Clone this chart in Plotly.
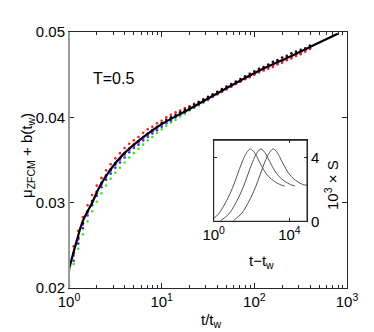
import numpy as np
import plotly.graph_objects as go

# ---------------- data ----------------
# shared sampling of t/t_w for the dotted series
t_ratio = [1.000, 1.122, 1.259, 1.413, 1.585, 1.778, 1.995, 2.239, 2.512, 2.818,
           3.162, 3.548, 3.981, 4.467, 5.012, 5.623, 6.310, 7.079, 7.943, 8.913,
           10.00, 11.22, 12.59, 14.13, 15.85, 17.78, 19.95, 22.39, 25.12, 28.18,
           31.62, 35.48, 39.81, 44.67, 50.12, 56.23, 63.10, 70.79, 79.43, 89.13,
           100.0, 112.2, 125.9, 141.3, 158.5, 177.8, 199.5, 223.9, 251.2, 281.8,
           316.2, 354.8, 398.1]

mu_red = [0.0228, 0.0249, 0.0267, 0.0283, 0.0297, 0.0309, 0.0320, 0.0329, 0.0338, 0.0345,
          0.0352, 0.0358, 0.0364, 0.0369, 0.0373, 0.0377, 0.0382, 0.0386, 0.0389, 0.0393,
          0.0396, 0.0400, 0.0403, 0.0406, 0.0408, 0.0411, 0.0413, 0.0416, 0.0418, 0.0420,
          0.0423, 0.0426, 0.0428, 0.0431, 0.0434, 0.0436, 0.0439, 0.0442, 0.0445, 0.0447,
          0.0450, 0.0453, 0.0455, 0.0457, 0.0459, 0.0462, 0.0464, 0.0467, 0.0469, 0.0472,
          0.0474, 0.0477, 0.0480]

mu_blue = [0.0203, 0.0232, 0.0252, 0.0270, 0.0285, 0.0297, 0.0308, 0.0318, 0.0327, 0.0334,
           0.0341, 0.0347, 0.0353, 0.0359, 0.0364, 0.0368, 0.0373, 0.0377, 0.0381, 0.0385,
           0.0389, 0.0393, 0.0396, 0.0400, 0.0403, 0.0406, 0.0409, 0.0412, 0.0415, 0.0418,
           0.0421, 0.0424, 0.0427, 0.0430, 0.0433, 0.0436, 0.0439, 0.0442, 0.0445, 0.0448,
           0.0451, 0.0453, 0.0456, 0.0459, 0.0461, 0.0464, 0.0466, 0.0469, 0.0471, 0.0474,
           0.0476, 0.0479, 0.0481]

mu_green = [0.0206, 0.0228, 0.0246, 0.0263, 0.0278, 0.0290, 0.0301, 0.0311, 0.0320, 0.0328,
            0.0335, 0.0341, 0.0347, 0.0353, 0.0358, 0.0363, 0.0368, 0.0373, 0.0377, 0.0382,
            0.0386, 0.0390, 0.0394, 0.0397, 0.0401, 0.0404, 0.0408, 0.0411, 0.0414, 0.0417,
            0.0420]

mu_magenta = [0.0212, 0.0238, 0.0257, 0.0274, 0.0288, 0.0300, 0.0311, 0.0321, 0.0330, 0.0337,
              0.0344, 0.0350, 0.0356, 0.0361, 0.0366, 0.0370, 0.0375, 0.0379, 0.0383, 0.0387,
              0.0391, 0.0394, 0.0398, 0.0401, 0.0404, 0.0407, 0.0410, 0.0413, 0.0416, 0.0418,
              0.0421, 0.0424, 0.0427, 0.0430, 0.0433, 0.0436, 0.0439, 0.0442, 0.0445, 0.0448,
              0.0451, 0.0453, 0.0456, 0.0459, 0.0461, 0.0464, 0.0466, 0.0469, 0.0471, 0.0474,
              0.0476, 0.0479, 0.0481]

mu_black = [0.0221, 0.0241, 0.0259, 0.0276, 0.0290, 0.0302, 0.0313, 0.0323, 0.0332, 0.0339,
            0.0346, 0.0352, 0.0358, 0.0363, 0.0368, 0.0372, 0.0377, 0.0381, 0.0385, 0.0389,
            0.0393, 0.0397, 0.0400, 0.0403, 0.0406, 0.0409, 0.0412, 0.0415, 0.0418, 0.0421,
            0.0424, 0.0427, 0.0430, 0.0433, 0.0436, 0.0439, 0.0442, 0.0445, 0.0448, 0.0451,
            0.0454, 0.0457, 0.0459, 0.0462, 0.0465, 0.0467, 0.0470, 0.0472, 0.0475, 0.0477,
            0.0479, 0.0481, 0.0484]

# solid fit curve (log10 t/t_w, value)
fit_log_t = [0.0, 0.075, 0.148, 0.25, 0.327, 0.435, 0.579, 0.723, 0.867, 1.0,
             1.32, 1.68, 2.04, 2.4, 2.65, 2.9]
fit_mu = [0.0222, 0.0252, 0.0278, 0.0300, 0.0318, 0.0337, 0.0356, 0.0370, 0.0382, 0.0392,
          0.0411, 0.0433, 0.0454, 0.0472, 0.0485, 0.0498]

# inset: relaxation rate S (x10^3) vs log10(t - t_w)
s1_log_t = [0.0, 0.25, 0.5, 0.75, 1.0, 1.25, 1.5, 1.75, 1.95, 2.15, 2.4, 2.65, 2.9, 3.2, 3.5, 3.75]
s1_val = [0.18, 0.45, 0.9, 1.45, 2.1, 2.9, 3.7, 4.3, 4.52, 4.3, 3.75, 3.2, 2.8, 2.5, 2.3, 2.2]
s2_log_t = [0.35, 0.55, 0.8, 1.05, 1.3, 1.55, 1.8, 2.05, 2.3, 2.5, 2.7, 2.95, 3.2, 3.45, 3.75, 4.05, 4.3]
s2_val = [0.04, 0.2, 0.45, 0.9, 1.45, 2.1, 2.9, 3.7, 4.3, 4.52, 4.3, 3.75, 3.2, 2.8, 2.5, 2.3, 2.2]
s3_log_t = [1.05, 1.2, 1.45, 1.7, 1.95, 2.2, 2.45, 2.7, 2.95, 3.15, 3.35, 3.6, 3.85, 4.1, 4.4, 4.7, 4.93]
s3_val = [0.04, 0.2, 0.45, 0.9, 1.45, 2.1, 2.9, 3.7, 4.3, 4.52, 4.3, 3.75, 3.2, 2.8, 2.5, 2.3, 2.25]

x_ticks = [1, 10, 100, 1000]
x_ticktext = ["10<sup>0</sup>", "10<sup>1</sup>", "10<sup>2</sup>", "10<sup>3</sup>"]
x_minor = [2, 3, 4, 5, 6, 7, 8, 9, 20, 30, 40, 50, 60, 70, 80, 90,
           200, 300, 400, 500, 600, 700, 800, 900]
y_ticks = [0.02, 0.03, 0.04, 0.05]
y_ticktext = ["0.02", "0.03", "0.04", "0.05"]
inset_x_ticks = [1, 10000]
inset_x_ticktext = ["10<sup>0</sup>", "10<sup>4</sup>"]
inset_y_ticks = [0, 4]

# ---------------- figure ----------------
FONT = "Liberation Sans, Arial, Helvetica, sans-serif"
AX = "#262626"
FS = 15

fig = go.Figure()

dot_series = [
    (mu_green, "#33ee22"),
    (mu_blue, "#2233ff"),
    (mu_magenta, "#ee22ee"),
    (mu_red, "#ff1a1a"),
    (mu_black, "#111111"),
]
for ys, col in dot_series:
    fig.add_trace(go.Scatter(
        x=t_ratio[:len(ys)], y=ys, mode="markers",
        marker=dict(size=2.6, color=col, line=dict(width=0)),
        showlegend=False, hoverinfo="skip"))

fig.add_trace(go.Scatter(
    x=10 ** np.array(fit_log_t), y=fit_mu, mode="lines",
    line=dict(color="black", width=2.2, shape="spline"),
    showlegend=False, hoverinfo="skip"))

for lt, sv in [(s1_log_t, s1_val), (s2_log_t, s2_val), (s3_log_t, s3_val)]:
    fig.add_trace(go.Scatter(
        x=10 ** np.array(lt), y=sv, mode="lines",
        line=dict(color="#555555", width=1, shape="spline"),
        xaxis="x2", yaxis="y2", showlegend=False, hoverinfo="skip"))

# inset domain in paper coordinates (main plot area spans 61..339 x, 24..280 y)
ix0, ix1 = (205.7 - 61) / 278, (299 - 61) / 278
iy0, iy1 = (280 - 213.3) / 256, (280 - 132.3) / 256

fig.update_layout(
    width=374, height=332,
    margin=dict(l=61, r=35, t=24, b=52),
    paper_bgcolor="white", plot_bgcolor="white",
    font=dict(family=FONT, size=FS, color="black"),
    xaxis=dict(
        type="log", range=[0, 3], domain=[0, 1],
        tickvals=x_ticks, ticktext=x_ticktext,
        ticks="inside", ticklen=5, tickcolor=AX, tickwidth=1,
        minor=dict(tickvals=x_minor, ticks="inside", ticklen=3, tickcolor=AX, showgrid=False),
        showline=True, linecolor=AX, linewidth=1, mirror="ticks",
        showgrid=False, zeroline=False, tickfont=dict(size=FS)),
    yaxis=dict(
        range=[0.02, 0.05], domain=[0, 1],
        tickvals=y_ticks, ticktext=y_ticktext,
        ticks="inside", ticklen=5, tickcolor=AX, tickwidth=1,
        showline=True, linecolor=AX, linewidth=1, mirror="ticks",
        showgrid=False, zeroline=False, tickfont=dict(size=FS)),
    xaxis2=dict(
        type="log", range=[0, 4.93], domain=[ix0, ix1], anchor="y2",
        tickvals=inset_x_ticks, ticktext=inset_x_ticktext,
        ticks="inside", ticklen=3, tickcolor=AX,
        showline=True, linecolor=AX, linewidth=1, mirror="ticks",
        showgrid=False, zeroline=False, tickfont=dict(size=FS)),
    yaxis2=dict(
        range=[0, 5.06], domain=[iy0, iy1], anchor="x2", side="right",
        tickvals=inset_y_ticks,
        ticks="inside", ticklen=3, tickcolor=AX,
        showline=True, linecolor=AX, linewidth=1, mirror="ticks",
        showgrid=False, zeroline=False, tickfont=dict(size=FS)),
    shapes=[dict(type="line", xref="paper", yref="paper", x0=0, x1=0, y0=0, y1=1,
                 line=dict(color="#9a9a9a", width=2)),
            dict(type="rect", xref="paper", yref="paper", x0=ix0, x1=ix1, y0=iy0, y1=iy1,
                 line=dict(color=AX, width=1), fillcolor="rgba(0,0,0,0)", layer="above")],
    annotations=[
        dict(text="μ<sub>ZFCM</sub> + b(t<sub>w</sub>)", xref="paper", yref="paper",
             x=(19 - 61) / 278, y=(280 - 148) / 256, textangle=-90, showarrow=False,
             font=dict(size=FS), xanchor="center", yanchor="middle"),
        dict(text="t/t<sub>w</sub>", xref="paper", yref="paper",
             x=(203 - 61) / 278, y=(280 - 312) / 256, showarrow=False,
             font=dict(size=FS), xanchor="center", yanchor="middle"),
        dict(text="T=0.5", xref="paper", yref="paper",
             x=(105 - 61) / 278, y=(280 - 70) / 256, showarrow=False,
             font=dict(size=16), xanchor="center", yanchor="middle"),
        dict(text="t−t<sub>w</sub>", xref="paper", yref="paper",
             x=(253 - 61) / 278, y=(280 - 253) / 256, showarrow=False,
             font=dict(size=FS), xanchor="center", yanchor="middle"),
        dict(text="10<sup>3</sup> × S", xref="paper", yref="paper",
             x=(323 - 61) / 278, y=(280 - 177) / 256, textangle=-90, showarrow=False,
             font=dict(size=FS), xanchor="center", yanchor="middle"),
    ],
)

fig.write_html("out.html")
